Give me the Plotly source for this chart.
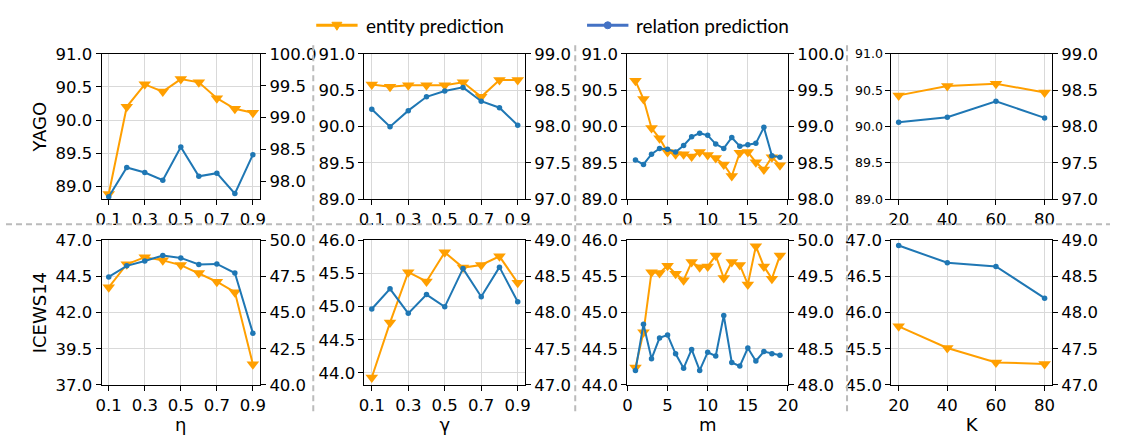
import plotly.graph_objects as go

W, H = 1121, 435

# ---------------- data ----------------
eta = [0.1, 0.2, 0.3, 0.4, 0.5, 0.6, 0.7, 0.8, 0.9]
gamma = [0.1, 0.2, 0.3, 0.4, 0.5, 0.6, 0.7, 0.8, 0.9]
m_vals = list(range(1, 20))
K_vals = [20, 40, 60, 80]

yago_eta_ent = [88.88, 90.20, 90.54, 90.43, 90.62, 90.57, 90.33, 90.17, 90.11]
yago_eta_rel = [97.76, 98.22, 98.14, 98.02, 98.54, 98.08, 98.13, 97.81, 98.42]
yago_gamma_ent = [90.58, 90.55, 90.57, 90.57, 90.57, 90.61, 90.41, 90.64, 90.64]
yago_gamma_rel = [98.24, 98.00, 98.22, 98.41, 98.49, 98.54, 98.35, 98.26, 98.02]
yago_m_ent = [90.63, 90.38, 89.98, 89.84, 89.65, 89.62, 89.62, 89.59, 89.65, 89.61,
              89.57, 89.48, 89.32, 89.64, 89.65, 89.51, 89.41, 89.58, 89.47]
yago_m_rel = [98.54, 98.48, 98.62, 98.70, 98.69, 98.65, 98.74, 98.86, 98.91, 98.88,
              98.76, 98.70, 98.85, 98.73, 98.75, 98.77, 98.99, 98.60, 98.58]
yago_K_ent = [90.43, 90.56, 90.59, 90.47]
yago_K_rel = [98.06, 98.13, 98.35, 98.12]

icews_eta_ent = [43.75, 45.35, 45.84, 45.62, 45.29, 44.74, 44.14, 43.42, 38.43]
icews_eta_rel = [47.47, 48.24, 48.57, 48.95, 48.79, 48.33, 48.37, 47.74, 43.58]
icews_gamma_ent = [43.93, 44.76, 45.52, 45.38, 45.82, 45.59, 45.63, 45.76, 45.36]
icews_gamma_rel = [48.05, 48.33, 47.99, 48.25, 48.08, 48.61, 48.22, 48.63, 48.15]
icews_m_ent = [44.24, 44.73, 45.56, 45.55, 45.65, 45.54, 45.45, 45.70, 45.63, 45.64,
               45.79, 45.48, 45.70, 45.66, 45.39, 45.92, 45.64, 45.47, 45.79]
icews_m_rel = [48.20, 48.84, 48.36, 48.65, 48.69, 48.43, 48.23, 48.49, 48.20, 48.45,
               48.40, 48.96, 48.31, 48.26, 48.51, 48.33, 48.46, 48.43, 48.41]
icews_K_ent = [45.81, 45.51, 45.31, 45.29]
icews_K_rel = [48.93, 48.69, 48.64, 48.20]

x_ticks_frac = [0.1, 0.3, 0.5, 0.7, 0.9]
x_ticks_m = [0, 5, 10, 15, 20]
x_ticks_K = [20, 40, 60, 80]

row_labels = ["YAGO", "ICEWS14"]
x_titles = ["η", "γ", "m", "K"]
legend_names = ["entity prediction", "relation prediction"]

# panel definitions: (x, ent, rel, xticks, xrange, left range, left ticks, right range, right ticks)
panels = [
    (eta, yago_eta_ent, yago_eta_rel, x_ticks_frac, [0.06, 0.94],
     [88.8, 91.0], [89.0, 89.5, 90.0, 90.5, 91.0], [97.72, 100.0], [98.0, 98.5, 99.0, 99.5, 100.0]),
    (gamma, yago_gamma_ent, yago_gamma_rel, x_ticks_frac, [0.06, 0.94],
     [89.0, 91.0], [89.0, 89.5, 90.0, 90.5, 91.0], [97.0, 99.0], [97.0, 97.5, 98.0, 98.5, 99.0]),
    (m_vals, yago_m_ent, yago_m_rel, x_ticks_m, [0, 20],
     [89.0, 91.0], [89.0, 89.5, 90.0, 90.5, 91.0], [98.0, 100.0], [98.0, 98.5, 99.0, 99.5, 100.0]),
    (K_vals, yago_K_ent, yago_K_rel, x_ticks_K, [17, 83],
     [89.0, 91.0], [89.0, 89.5, 90.0, 90.5, 91.0], [97.0, 99.0], [97.0, 97.5, 98.0, 98.5, 99.0]),
    (eta, icews_eta_ent, icews_eta_rel, x_ticks_frac, [0.06, 0.94],
     [37.0, 47.0], [37.0, 39.5, 42.0, 44.5, 47.0], [40.0, 50.0], [40.0, 42.5, 45.0, 47.5, 50.0]),
    (gamma, icews_gamma_ent, icews_gamma_rel, x_ticks_frac, [0.06, 0.94],
     [43.82, 46.0], [44.0, 44.5, 45.0, 45.5, 46.0], [47.0, 49.0], [47.0, 47.5, 48.0, 48.5, 49.0]),
    (m_vals, icews_m_ent, icews_m_rel, x_ticks_m, [0, 20],
     [44.0, 46.0], [44.0, 44.5, 45.0, 45.5, 46.0], [48.0, 50.0], [48.0, 48.5, 49.0, 49.5, 50.0]),
    (K_vals, icews_K_ent, icews_K_rel, x_ticks_K, [17, 83],
     [45.0, 47.0], [45.0, 45.5, 46.0, 46.5, 47.0], [47.0, 49.0], [47.0, 47.5, 48.0, 48.5, 49.0]),
]

ORANGE = "#FF9F00"
BLUE = "#1F77B4"
LEG_ORANGE = "#FFA500"
LEG_BLUE = "#4472C4"
GRID = "#D9D9D9"
TICK_FONT = dict(family="DejaVu Sans", size=16.5, color="black")


def fx(px):
    return px / W


def fy(py):
    return 1 - py / H


col_px = [(97, 258), (364, 527), (631, 794), (899, 1062)]
row_px = [(47, 199), (242, 393)]

fig = go.Figure()
layout = dict(
    width=W, height=H,
    margin=dict(l=0, r=0, t=0, b=0),
    paper_bgcolor="white", plot_bgcolor="white",
    showlegend=False,
)


def fmt(v):
    return f"{v:.1f}"


for i, (xs, ent, rel, xt, xr, lr, lt, rr, rt) in enumerate(panels):
    n = i + 1
    r, c = divmod(i, 4)
    xa = f"xaxis{n if n > 1 else ''}"
    xid = f"x{n if n > 1 else ''}"
    yl_n = 2 * i + 1
    yr_n = 2 * i + 2
    ya_l = f"yaxis{yl_n if yl_n > 1 else ''}"
    yid_l = f"y{yl_n if yl_n > 1 else ''}"
    ya_r = f"yaxis{yr_n}"
    yid_r = f"y{yr_n}"

    x0, x1 = col_px[c]
    yt, yb = row_px[r]
    if xt == x_ticks_frac:
        xtext = [fmt(v) for v in xt]
    else:
        xtext = [str(v) for v in xt]
    layout[xa] = dict(
        domain=[fx(x0), fx(x1)], anchor=yid_l, range=xr,
        tickvals=xt, ticktext=xtext,
        showline=True, linecolor="black", linewidth=1, mirror=True,
        ticks="outside", ticklen=5, tickcolor="black", tickwidth=1,
        showgrid=True, gridcolor=GRID, gridwidth=1, zeroline=False,
        tickfont=TICK_FONT,
    )
    if r == 1:
        layout[xa]["title"] = dict(text=x_titles[c], font=dict(family="DejaVu Sans", size=18, color="black"), standoff=5)
    lfont = dict(TICK_FONT)
    if i == 3:
        lfont["size"] = 12.5
    layout[ya_l] = dict(
        domain=[fy(yb), fy(yt)], anchor=xid, range=lr,
        tickvals=lt, ticktext=[fmt(v) for v in lt],
        showline=True, linecolor="black", linewidth=1,
        ticks="outside", ticklen=5, tickcolor="black", tickwidth=1,
        showgrid=True, gridcolor=GRID, gridwidth=1, zeroline=False,
        tickfont=lfont,
    )
    if c == 0:
        layout[ya_l]["title"] = dict(text=row_labels[r], font=dict(family="DejaVu Sans", size=18, color="black"), standoff=4)
    layout[ya_r] = dict(
        overlaying=yid_l, side="right", anchor=xid, range=rr,
        tickvals=rt, ticktext=[fmt(v) for v in rt],
        showline=True, linecolor="black", linewidth=1,
        ticks="outside", ticklen=5, tickcolor="black", tickwidth=1,
        showgrid=False, zeroline=False,
        tickfont=TICK_FONT,
    )

    fig.add_trace(go.Scatter(
        x=xs, y=ent, xaxis=xid, yaxis=yid_l, mode="lines+markers",
        name=legend_names[0], line=dict(color=ORANGE, width=2),
        marker=dict(symbol="triangle-down", size=11, color=ORANGE),
        cliponaxis=False,
    ))
    fig.add_trace(go.Scatter(
        x=xs, y=rel, xaxis=xid, yaxis=yid_r, mode="lines+markers",
        name=legend_names[1], line=dict(color=BLUE, width=2),
        marker=dict(symbol="circle", size=5.5, color=BLUE),
        cliponaxis=False,
    ))

shapes = []
dash_style = dict(color="#BBBBBB", width=2, dash="6px,4px")
for xp in [312, 578, 854]:
    shapes.append(dict(type="line", xref="paper", yref="paper",
                       x0=fx(xp), x1=fx(xp), y0=fy(38), y1=fy(422), line=dash_style))
shapes.append(dict(type="line", xref="paper", yref="paper",
                   x0=0, x1=1, y0=fy(225), y1=fy(225), line=dash_style))

# legend (drawn manually)
leg_y = 17
shapes.append(dict(type="line", xref="paper", yref="paper",
                   x0=fx(315), x1=fx(357), y0=fy(leg_y), y1=fy(leg_y),
                   line=dict(color=LEG_ORANGE, width=3)))
shapes.append(dict(type="path", xref="paper", yref="paper",
                   xsizemode="pixel", ysizemode="pixel",
                   xanchor=fx(336), yanchor=fy(leg_y),
                   path="M -5,3 L 5,3 L 0,-5 Z",
                   fillcolor=LEG_ORANGE, line=dict(color=LEG_ORANGE, width=1)))
shapes.append(dict(type="line", xref="paper", yref="paper",
                   x0=fx(590), x1=fx(632), y0=fy(leg_y), y1=fy(leg_y),
                   line=dict(color=LEG_BLUE, width=3)))
shapes.append(dict(type="circle", xref="paper", yref="paper",
                   xsizemode="pixel", ysizemode="pixel",
                   xanchor=fx(611), yanchor=fy(leg_y),
                   x0=-3.5, x1=3.5, y0=-3.5, y1=3.5,
                   fillcolor=LEG_BLUE, line=dict(color=LEG_BLUE, width=1)))

annotations = [
    dict(text=legend_names[0], xref="paper", yref="paper", x=fx(364), y=fy(leg_y),
         xanchor="left", yanchor="middle", showarrow=False,
         font=dict(family="Lato", size=19, color="black")),
    dict(text=legend_names[1], xref="paper", yref="paper", x=fx(638), y=fy(leg_y),
         xanchor="left", yanchor="middle", showarrow=False,
         font=dict(family="Lato", size=19, color="black")),
]

layout["shapes"] = shapes
layout["annotations"] = annotations
fig.update_layout(**layout)
fig.write_html("out.html")
